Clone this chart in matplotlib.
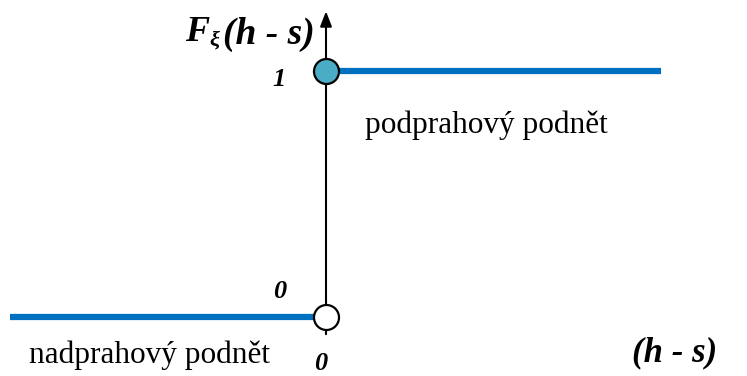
import matplotlib.pyplot as plt

# step function F(h - s): 0 for negative argument, 1 for positive
x_low = [-3.16, 0.0]
y_low = [0, 0]
x_high = [0.0, 3.35]
y_high = [1, 1]

fig = plt.figure(figsize=(7.47, 3.76), dpi=100)
ax = fig.add_axes([0, 0, 1, 1])
# 1 unit on x = 100 px, 1 unit on y = 246 px, origin at (326, 317)
ax.set_xlim(-3.26, 4.21)
ax.set_ylim(-0.240, 1.289)
ax.axis('off')

blue = '#0070C0'
serif = 'Liberation Serif'

# axes with arrows
ax.annotate('', xy=(4.22, 0), xytext=(0, 0),
            arrowprops=dict(arrowstyle='-|>,head_length=0.9,head_width=0.35',
                            color='black', lw=1.5, shrinkA=0, shrinkB=0))
ax.annotate('', xy=(0, 1.243), xytext=(0, -0.07),
            arrowprops=dict(arrowstyle='-|>,head_length=0.9,head_width=0.35',
                            color='black', lw=1.5, shrinkA=0, shrinkB=0))

ax.plot(x_low, y_low, color=blue, lw=4.5, solid_capstyle='butt', zorder=3)
ax.plot(x_high, y_high, color=blue, lw=4.5, solid_capstyle='butt', zorder=3)

ax.plot([0], [1], 'o', ms=18, mfc='#4BACC6', mec='black', mew=1.6, zorder=4)
ax.plot([0], [0], 'o', ms=18, mfc='white', mec='black', mew=1.6, zorder=4)

bi = dict(family=serif, weight='bold', style='italic')
# y-axis label F_xi(h - s)
ax.text(-1.41, 1.155, 'F', fontsize=26, ha='left', va='center', **bi)
ax.text(-1.165, 1.125, 'ξ', fontsize=16, ha='left', va='center', **bi)
ax.text(-0.11, 1.15, '(h - s)', fontsize=27, ha='right', va='center', **bi)

ax.text(-0.47, 0.965, '1', fontsize=19, ha='center', va='center', **bi)
ax.text(-0.46, 0.105, '0', fontsize=19, ha='center', va='center', **bi)
ax.text(-0.05, -0.19, '0', fontsize=19, ha='center', va='center', **bi)
ax.text(3.49, -0.145, '(h - s)', fontsize=25, ha='center', va='center', **bi)

ax.text(0.39, 0.78, 'podprahový podnět', fontsize=22.5, family=serif,
        ha='left', va='center')
ax.text(-2.97, -0.155, 'nadprahový podnět', fontsize=22.5, family=serif,
        ha='left', va='center')

fig.savefig('out.png', dpi=100)
